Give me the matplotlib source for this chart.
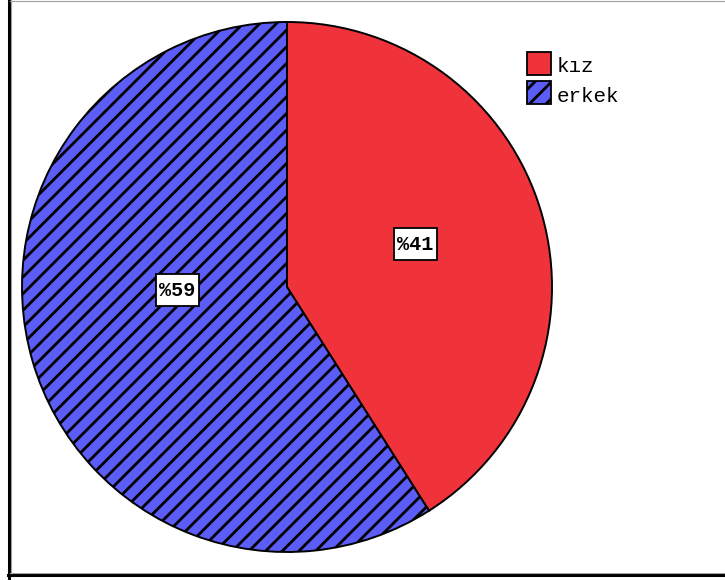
import matplotlib.pyplot as plt
from matplotlib.lines import Line2D
from matplotlib.patches import Rectangle

plt.rcParams['hatch.linewidth'] = 2.0

# cinsiyet dağılımı
labels = ["kız", "erkek"]
values = [41, 59]
colors = ["#f0333b", "#5c5cf6"]
hatches = ["", "//"]

W, H = 725, 580
fig = plt.figure(figsize=(W / 100, H / 100), dpi=100)


def px(x, y):
    # piksel (sol üstten) -> figür oranı
    return x / W, 1 - y / H


# dış çerçeve: sol ve alt kalın siyah, iç tarafta ince gri
fig.add_artist(Line2D([9 / W, 9 / W], [0, 1], transform=fig.transFigure,
                      color="black", linewidth=2.2))
fig.add_artist(Line2D([8 / W, 1], [5 / H, 5 / H], transform=fig.transFigure,
                      color="black", linewidth=2.2))
fig.add_artist(Line2D([10 / W, 1], [6.8 / H, 6.8 / H], transform=fig.transFigure,
                      color="#a0a0a0", linewidth=0.8))
fig.add_artist(Line2D([10.8 / W, 10.8 / W], [6.8 / H, 1], transform=fig.transFigure,
                      color="#a0a0a0", linewidth=0.8))
fig.add_artist(Line2D([10 / W, 1], [1 - 0.5 / H, 1 - 0.5 / H], transform=fig.transFigure,
                      color="#a0a0a0", linewidth=0.8))

ax = fig.add_axes([22 / W, 28 / H, 530 / W, 530 / H])
wedges, _ = ax.pie(values, colors=colors, startangle=90, counterclock=False,
                   wedgeprops=dict(edgecolor="black", linewidth=1.4))
for w, h in zip(wedges, hatches):
    w.set_hatch(h)
ax.set_xlim(-1, 1)
ax.set_ylim(-1, 1)
ax.set_aspect("equal")
ax.axis("off")

# yüzde etiketleri, beyaz kutu içinde
label_pos = [(0.484, 0.164), (-0.413, -0.011)]
box_w, box_h = 43 / 265, 32 / 265
for v, (x, y) in zip(values, label_pos):
    ax.add_patch(Rectangle((x - box_w / 2, y - box_h / 2), box_w, box_h,
                           facecolor="white", edgecolor="black", linewidth=1.3,
                           zorder=3))
    ax.text(x, y - 0.004, "%" + str(v), ha="center", va="center", zorder=4,
            family="Liberation Mono", fontweight="bold", fontsize=14.5)

# lejant
for i, (lab, c, h) in enumerate(zip(labels, colors, hatches)):
    top = 52 + i * 29
    x0, y0 = px(527, top + 23)
    fig.add_artist(Rectangle((x0, y0), 24 / W, 23 / H, transform=fig.transFigure,
                             facecolor=c, edgecolor="black", linewidth=1.3, hatch=h))
    tx, ty = px(557, top + 13)
    fig.text(tx, ty, lab, ha="left", va="center_baseline",
             family="Liberation Mono", fontsize=15)

fig.savefig("out.png", dpi=100)
